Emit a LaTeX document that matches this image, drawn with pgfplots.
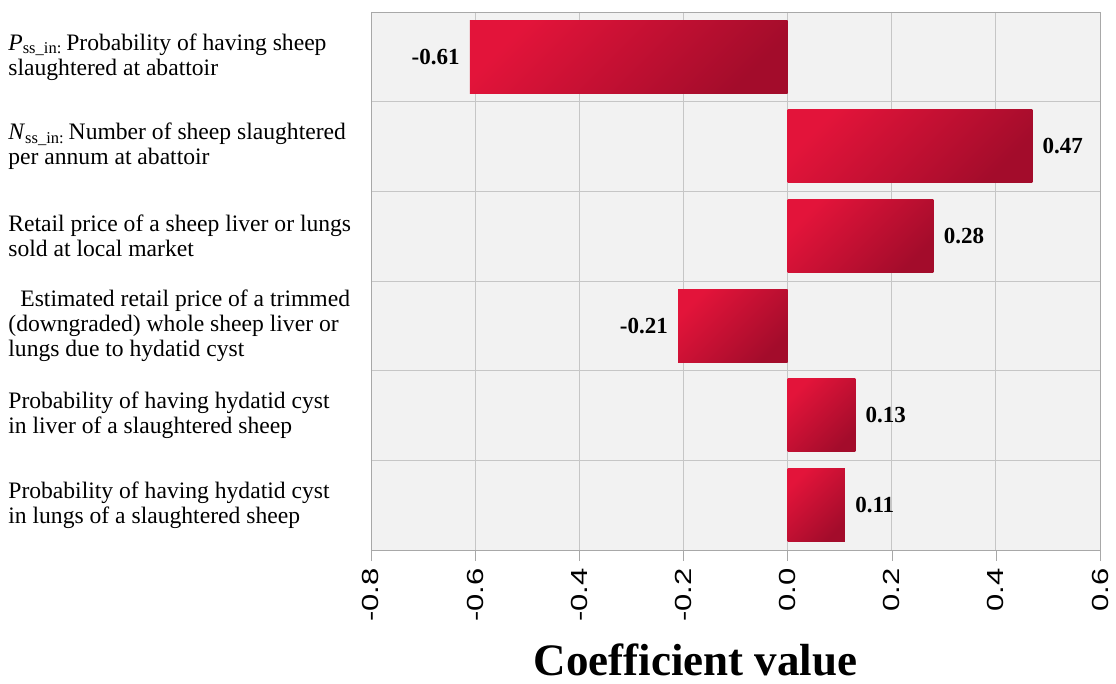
\documentclass[border=0pt]{standalone}
\usepackage{fontspec}
\setmainfont{Liberation Serif}
\setsansfont{Liberation Sans}
\usepackage{pgfplots}
\pgfplotsset{compat=1.18}

\definecolor{barlight}{HTML}{E3143A}
\definecolor{bardark}{HTML}{A30C2B}
\definecolor{gridgray}{HTML}{C6C6C6}
\definecolor{axisgray}{HTML}{A8A8A8}
\definecolor{plotbg}{HTML}{F2F2F2}

\pgfplotsset{
  coefbar/.style={xbar, bar width=36.5pt, bar shift=0pt, draw=none,
    top color=barlight, bottom color=bardark, shading angle=45,
    point meta=x,
    nodes near coords={\pgfmathprintnumber[fixed,fixed zerofill,precision=2]{\pgfplotspointmeta}},
    nodes near coords align=horizontal,
    every node near coord/.append style={text=black, font=\bfseries\fontsize{11.5}{12}\selectfont, inner xsep=5pt}},
}

\begin{document}
\begin{tikzpicture}
\begin{axis}[
  scale only axis,
  width=364.5pt, height=269pt,
  xmin=-0.8, xmax=0.6,
  ymin=-0.5, ymax=5.5, y dir=reverse,
  axis background/.style={fill=plotbg},
  axis line style={axisgray},
  xtick={-0.8,-0.6,-0.4,-0.2,0,0.2,0.4,0.6},
  xmajorgrids, major grid style={gridgray},
  ytick={0,1,2,3,4,5},
  minor ytick={0.5,1.5,2.5,3.5,4.5},
  yminorgrids, minor grid style={gridgray},
  minor tick length=0pt,
  tick align=outside,
  major tick length=5.5pt,
  xtick style={axisgray},
  ytick style={draw=none},
  xtick pos=bottom,
  /pgf/number format/assume math mode=true,
  xticklabel={\scalebox{1}[0.75]{\pgfmathprintnumber[fixed,fixed zerofill,precision=1]{\tick}}},
  xticklabel style={rotate=90, anchor=east, font=\sffamily\fontsize{15.5}{15.5}\selectfont, inner sep=3.5pt},
  yticklabels={
    {\textit{P}\textsubscript{ss\_in:}\,Probability of having sheep\\slaughtered at abattoir},
    {\textit{N}\textsubscript{ss\_in:}\,Number of sheep slaughtered\\per annum at abattoir},
    {Retail price of a sheep liver or lungs\\sold at local market},
    {\hspace*{6pt}Estimated retail price of a trimmed\\(downgraded) whole sheep liver or\\lungs due to hydatid cyst},
    {Probability of having hydatid cyst\\in liver of a slaughtered sheep},
    {Probability of having hydatid cyst\\in lungs of a slaughtered sheep}
  },
  yticklabel style={font=\fontsize{11.8}{12.5}\selectfont, anchor=west, align=left, inner xsep=0pt, xshift=-176pt},
  xlabel={Coefficient value},
  xlabel style={font=\bfseries\fontsize{22.5}{25}\selectfont, at={(axis description cs:0.5,0)}, anchor=base, yshift=-63pt, xshift=-20pt},
]
\coordinate (tl) at (axis description cs:0,1);
\addplot[coefbar] coordinates {(-0.61,0)};
\addplot[coefbar] coordinates {(0.47,1)};
\addplot[coefbar] coordinates {(0.28,2)};
\addplot[coefbar] coordinates {(-0.21,3)};
\addplot[coefbar] coordinates {(0.13,4)};
\addplot[coefbar] coordinates {(0.11,5)};
\end{axis}
\pgfresetboundingbox
\path ([shift={(-185.5pt,6pt)}]tl) rectangle ++(558pt,-342pt);
\end{tikzpicture}
\end{document}
